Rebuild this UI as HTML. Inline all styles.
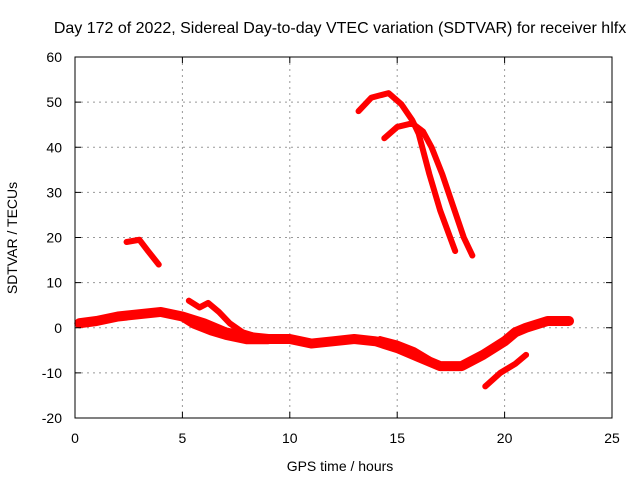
<!DOCTYPE html>
<html><head><meta charset="utf-8"><style>
body{margin:0;background:#fff}
svg text{font-family:"Liberation Sans",sans-serif;font-size:14px;fill:#000}
</style></head><body>
<svg id="chart" width="640" height="480">
<text x="340" y="33" text-anchor="middle" style="font-size:16px">Day 172 of 2022, Sidereal Day-to-day VTEC variation (SDTVAR) for receiver hlfx</text>
<g id="grid"></g><g id="series"></g><g id="axes"></g>
<text x="340" y="471" text-anchor="middle">GPS time / hours</text>
<text transform="translate(17,238) rotate(-90)" text-anchor="middle">SDTVAR / TECUs</text>
</svg>
<script>
const xTicks=[0,5,10,15,20,25];
const yTicks=[-20,-10,0,10,20,30,40,50,60];
const seriesMain=[[0.2,1],[1,1.5],[2,2.5],[3,3],[4,3.5],[5,2.5],[6,1],[7,-1],[8,-2],[9,-2.5],[10,-2.5],[11,-3.5],[12,-3],[13,-2.5],[14,-3],[15,-4.5],[16,-6.5],[17,-8.5],[18,-8.5],[19,-6],[20,-3],[20.5,-1],[21,0],[22,1.5],[23,1.5]];
const seriesUpperBranch=[[5.3,6],[5.8,4.5],[6.2,5.5],[6.7,3.5],[7.2,1],[7.8,-1],[8.5,-2]];
const seriesLowerBranch=[[5,2],[5.5,0.5],[6.3,-1],[7,-2],[8,-3],[9,-3]];
const seriesDip=[[14.2,-2.5],[15,-3.5],[15.8,-5],[16.5,-7]];
const seriesEarly=[[2.4,19],[3,19.5],[3.4,17],[3.9,14]];
const seriesArcA=[[13.2,48],[13.8,51],[14.6,52],[15.2,49.5],[15.7,46],[16,43],[16.5,34],[17,26],[17.7,17]];
const seriesArcB=[[14.4,42],[15,44.5],[15.7,45.3],[16.2,43.5],[16.6,40],[17.1,34],[17.6,27],[18.1,20],[18.5,16]];
const seriesLate=[[19.1,-13],[19.8,-10],[20.5,-8],[21,-6]];
const X=h=>75+h*21.48, Y=v=>57+(60-v)*4.5125;
const NS='http://www.w3.org/2000/svg';
const g=document.getElementById('grid'),ax=document.getElementById('axes'),s=document.getElementById('series');
function mk(t,a,p){const e=document.createElementNS(NS,t);for(const k in a)e.setAttribute(k,a[k]);p.appendChild(e);return e;}
xTicks.forEach(t=>{
 if(t>0&&t<25){const l=mk('line',{x1:X(t),x2:X(t),y1:57,y2:418,stroke:'#999','stroke-dasharray':'2,4'},g);
 
 }
 const tx=mk('text',{x:X(t),y:443,'text-anchor':'middle'},ax);tx.textContent=t;
 
 
 mk('line',{x1:X(t),x2:X(t),y1:418,y2:412,stroke:'#000'},ax);mk('line',{x1:X(t),x2:X(t),y1:57,y2:63,stroke:'#000'},ax);
});
yTicks.forEach(t=>{
 if(t>-20&&t<60){const l=mk('line',{x1:75,x2:612,y1:Y(t),y2:Y(t),stroke:'#999','stroke-dasharray':'2,4'},g);
 
 }
 const tx=mk('text',{x:62,y:Y(t)+5,'text-anchor':'end'},ax);tx.textContent=t;
 
 
 mk('line',{x1:75,x2:81,y1:Y(t),y2:Y(t),stroke:'#000'},ax);mk('line',{x1:606,x2:612,y1:Y(t),y2:Y(t),stroke:'#000'},ax);
});
const fr=mk('rect',{x:75,y:57,width:537,height:361,fill:'none',stroke:'#000'},ax);


[[seriesMain,10,'series-main-band'],[seriesUpperBranch,6,'series-upper-branch'],[seriesLowerBranch,6,'series-lower-branch'],[seriesDip,6,'series-dip-branch'],[seriesEarly,6,'series-early-arc'],[seriesArcA,6,'series-arc-a'],[seriesArcB,6,'series-arc-b'],[seriesLate,6,'series-late-arc']].forEach(([d,w,n])=>{
 const p=mk('polyline',{points:d.map(q=>X(q[0])+','+Y(q[1])).join(' '),fill:'none',stroke:'#f00','stroke-width':w,'stroke-linejoin':'round','stroke-linecap':'round'},s);
 
 
});
</script>
</body></html>
